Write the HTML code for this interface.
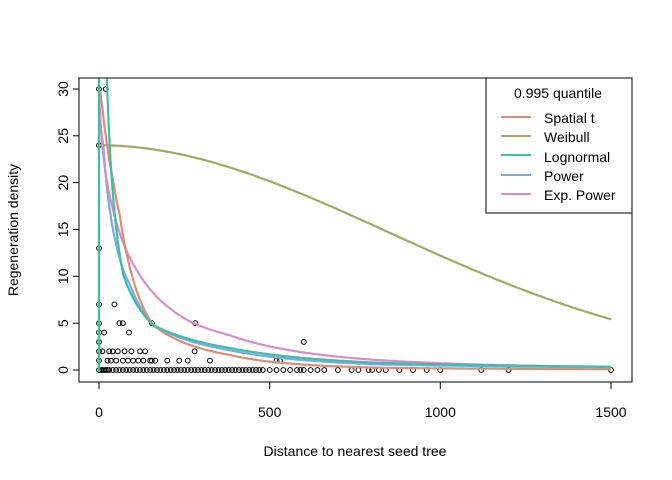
<!DOCTYPE html>
<html><head><meta charset="utf-8"><style>body{margin:0;background:#fff}svg{display:block}text{font-family:"Liberation Sans",Arial,sans-serif;fill:#000}</style></head>
<body>
<svg id="s" width="672" height="480" viewBox="0 0 672 480" xmlns="http://www.w3.org/2000/svg">
<defs><clipPath id="c"><rect x="79" y="78" width="553" height="304"/></clipPath></defs>
<g id="pts" fill="none" stroke="#000" stroke-width="1"></g>
<g id="curves" clip-path="url(#c)" fill="none" stroke-width="2.2" stroke-linejoin="round"></g>
<rect x="79" y="78" width="553" height="304" fill="none" stroke="#000"/>
<g stroke="#000">
<line x1="73" y1="370" x2="79" y2="370"/><line x1="73" y1="323.2" x2="79" y2="323.2"/><line x1="73" y1="276.3" x2="79" y2="276.3"/><line x1="73" y1="229.5" x2="79" y2="229.5"/><line x1="73" y1="182.6" x2="79" y2="182.6"/><line x1="73" y1="135.8" x2="79" y2="135.8"/><line x1="73" y1="89" x2="79" y2="89"/>
<line x1="99" y1="382" x2="99" y2="389"/><line x1="269.7" y1="382" x2="269.7" y2="389"/><line x1="440.3" y1="382" x2="440.3" y2="389"/><line x1="611" y1="382" x2="611" y2="389"/>
</g>
<g font-size="14" text-anchor="middle">
<text transform="translate(68,370) rotate(-90)">0</text>
<text transform="translate(68,323.2) rotate(-90)">5</text>
<text transform="translate(68,276.3) rotate(-90)">10</text>
<text transform="translate(68,229.5) rotate(-90)">15</text>
<text transform="translate(68,182.6) rotate(-90)">20</text>
<text transform="translate(68,135.8) rotate(-90)">25</text>
<text transform="translate(68,89) rotate(-90)">30</text>
<text x="99" y="417">0</text><text x="269.7" y="417">500</text><text x="440.3" y="417">1000</text><text x="611" y="417">1500</text>
<text x="355" y="456">Distance to nearest seed tree</text>
<text transform="translate(18,230) rotate(-90)">Regeneration density</text>
</g>
<rect x="486" y="78" width="146" height="135" fill="#fff" stroke="#000"/>
<g font-size="14">
<text x="558" y="98" text-anchor="middle">0.995 quantile</text>
<text x="544" y="123">Spatial t</text><text x="544" y="142">Weibull</text><text x="544" y="162">Lognormal</text><text x="544" y="181">Power</text><text x="544" y="200">Exp. Power</text>
</g>
<g stroke-width="2">
<line x1="501" y1="117" x2="531" y2="117" stroke="#DC8D78"/>
<line x1="501" y1="136" x2="531" y2="136" stroke="#9BAE60"/>
<line x1="501" y1="155" x2="531" y2="155" stroke="#3BBFA6"/>
<line x1="501" y1="175" x2="531" y2="175" stroke="#7FA8DE"/>
<line x1="501" y1="194" x2="531" y2="194" stroke="#D88CCB"/>
</g>
</svg>
<script>
(function(){
var X=function(d){return 99+0.34133*d},Y=function(y){return 370-9.367*y};
var ns="http://www.w3.org/2000/svg";
function interp(P){return function(d){var t=Math.sqrt(d);for(var i=0;i<P.length-1;i++){var a=P[i],b=P[i+1];if(d<=b[0]){var ta=Math.sqrt(a[0]),tb=Math.sqrt(b[0]);var u=(t-ta)/(tb-ta);return Math.exp(Math.log(a[1])*(1-u)+Math.log(b[1])*u);}}return P[P.length-1][1];};}
function path(f,col,d0){var s="";for(var d=d0;d<=1500;d+=(d<200?0.5:5)){var y=f(d);s+=(s?"L":"M")+X(d).toFixed(1)+","+Y(Math.min(y,40)).toFixed(1);}
var p=document.createElementNS(ns,"path");p.setAttribute("d",s);p.setAttribute("stroke",col);document.getElementById("curves").appendChild(p);}
path(function(d){return 24*Math.exp(-Math.pow(d/1223,1.95));},"#9BAE60",0);
path(interp([[0,30],[12.6,24],[32,17],[76,10.2],[91,9.1],[159,4.8],[384,2.1],[813,0.6],[1500,0.28]]),"#7FA8DE",0);
path(interp([[0,30],[3,27.6],[42,17],[110,10.7],[276,5],[384,3.7],[813,1.07],[1500,0.3]]),"#D88CCB",0);
path(interp([[0,30],[4,29.6],[10,28],[20,25],[40,20.5],[61,16.5],[96,10.2],[159,4.8],[384,1.6],[813,0.25],[1500,0.08]]),"#DC8D78",0);
path(interp([[20.5,34],[37,20.5],[71,10.2],[159,4.8],[384,2.35],[813,0.78],[1500,0.35]]),"#3BBFA6",20.5);
var l=document.createElementNS(ns,"line");l.setAttribute("x1",99);l.setAttribute("x2",99);l.setAttribute("y1",70);l.setAttribute("y2",372);l.setAttribute("stroke","#3BBFA6");document.getElementById("curves").appendChild(l);
var pts=[[0,30],[20,30],[0,24],[0,13],[0,7],[45,7],[0,5],[60,5],[70,5],[155,5],[282,5],[0,4],[15,4],[88,4],[0,3],[600,3],[0,2],[10,2],[30,2],[40,2],[55,2],[75,2],[95,2],[120,2],[135,2],[280,2],[0,1],[25,1],[35,1],[50,1],[70,1],[85,1],[100,1],[115,1],[130,1],[150,1],[155,1],[165,1],[200,1],[235,1],[260,1],[325,1],[520,1],[530,1]];
var z=[0,5,10,15,20,25,30,40,50,60,70,80,90,100,110,120,130,140,150,160,170,180,190,200,210,220,230,240,250,260,270,280,290,300,310,320,330,340,350,360,370,380,390,400,410,420,430,440,450,460,470,480,500,520,540,560,580,590,600,620,640,660,700,740,760,790,800,820,840,880,920,960,1000,1120,1200,1500];
z.forEach(function(d){pts.push([d,0]);});
var g=document.getElementById("pts");
pts.forEach(function(p){var c=document.createElementNS(ns,"circle");c.setAttribute("cx",X(p[0]).toFixed(1));c.setAttribute("cy",Y(p[1]).toFixed(1));c.setAttribute("r",2.4);g.appendChild(c);});
})();
</script>
</body></html>
